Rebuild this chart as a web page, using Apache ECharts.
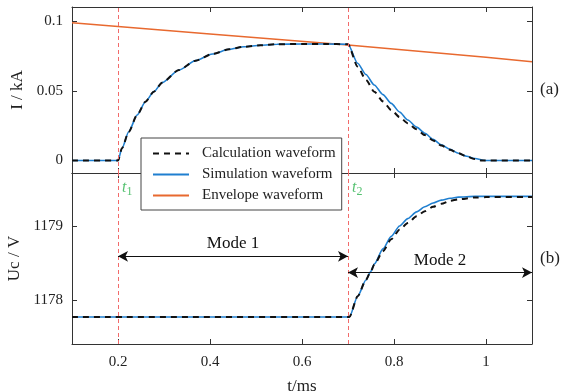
<!DOCTYPE html>
<html>
<head>
<meta charset="utf-8">
<script src="https://cdn.jsdelivr.net/npm/echarts@6/dist/echarts.min.js"></script>
<style>
html,body{margin:0;padding:0;background:#fff;}
#chart{width:572px;height:392px;}
</style>
</head>
<body>
<div id="chart"></div>
<script>
// ---- data ----
const xTicks = [0.2, 0.4, 0.6, 0.8, 1];
const iTicks = [0, 0.05, 0.1];
const uTicks = [1178, 1179];

const tSimI = [0.1, 0.2, 0.2087, 0.2233, 0.2415, 0.2597, 0.278, 0.296, 0.3325, 0.3688, 0.405, 0.4417, 0.474, 0.51, 0.546, 0.6, 0.65, 0.7,
  0.721, 0.739, 0.757, 0.776, 0.794, 0.812, 0.830, 0.849, 0.867, 0.885, 0.903, 0.922, 0.940, 0.958, 0.976, 0.998, 1.1];
const simI = [0, 0, 0.0088, 0.0207, 0.0327, 0.0423, 0.0495, 0.056, 0.0651, 0.0718, 0.0766, 0.080, 0.0818, 0.0829, 0.0836, 0.0838, 0.0838, 0.0836,
  0.0699, 0.0618, 0.0543, 0.0474, 0.0411, 0.0349, 0.0291, 0.0240, 0.0196, 0.0152, 0.0112, 0.0080, 0.0052, 0.0030, 0.0014, 0, 0];

const tCalcI = [0.1, 0.2, 0.2087, 0.2233, 0.2415, 0.2597, 0.278, 0.296, 0.3325, 0.3688, 0.405, 0.4417, 0.474, 0.51, 0.546, 0.6, 0.65, 0.7,
  0.721, 0.739, 0.757, 0.776, 0.794, 0.812, 0.830, 0.849, 0.867, 0.885, 0.903, 0.922, 0.940, 0.958, 0.976, 0.990, 1.1];
const calcI = [0, 0, 0.0088, 0.0207, 0.0327, 0.0423, 0.0495, 0.056, 0.0651, 0.0718, 0.0766, 0.080, 0.0818, 0.0829, 0.0836, 0.0838, 0.0838, 0.0836,
  0.0675, 0.0580, 0.0495, 0.0425, 0.0363, 0.0313, 0.0268, 0.0224, 0.0183, 0.0144, 0.0107, 0.0077, 0.0052, 0.0028, 0.0010, 0, 0];

const tEnv = [0.1, 0.4, 0.7, 1.0, 1.1];
const envI = [0.0991, 0.0910, 0.0831, 0.0742, 0.0711];

const tSimU = [0.1, 0.703, 0.721, 0.739, 0.749, 0.7575, 0.776, 0.794, 0.812, 0.830, 0.849, 0.867, 0.885, 0.903, 0.922, 0.940, 0.976, 1.1];
const simU = [1177.77, 1177.77, 1178.05, 1178.27, 1178.38, 1178.49, 1178.69, 1178.86, 1179.00, 1179.10, 1179.19, 1179.26, 1179.31, 1179.35, 1179.375, 1179.39, 1179.40, 1179.40];
const tCalcU = [0.1, 0.703, 0.721, 0.739, 0.749, 0.7575, 0.776, 0.794, 0.812, 0.830, 0.849, 0.867, 0.885, 0.903, 0.922, 0.940, 0.976, 1.0, 1.1];
const calcU = [1177.77, 1177.77, 1178.05, 1178.27, 1178.38, 1178.48, 1178.66, 1178.82, 1178.95, 1179.04, 1179.13, 1179.20, 1179.26, 1179.30, 1179.34, 1179.36, 1179.385, 1179.39, 1179.39];

const switchTimes = [0.2, 0.7];
const modeNames = ['Mode 1', 'Mode 2'];
const modeStart = [0.2, 0.7];
const modeEnd = [0.7, 1.1];
const modeLevel = [1178.59, 1178.37];
const tLabelLevel = 1179.51;

// ---- chart ----
const zip = (a, b) => a.map((v, i) => [v, b[i]]);
const FONT = '"Liberation Serif", "Times New Roman", serif';
const AX = '#333';
const chart = echarts.init(document.getElementById('chart'));

const xBase = {
  type: 'value', min: 0.1, max: 1.1,
  axisLine: { show: true, onZero: false, lineStyle: { color: AX, width: 1 } },
  axisTick: { show: true, inside: true, length: 5, customValues: xTicks, lineStyle: { color: AX } },
  axisLabel: { show: false, customValues: xTicks },
  splitLine: { show: false }
};
function yAx(min, max, ticks, extra) {
  return Object.assign({
    type: 'value', min: min, max: max,
    axisLine: { show: true, onZero: false, lineStyle: { color: AX, width: 1 } },
    axisTick: { show: true, inside: true, length: 5, customValues: ticks, lineStyle: { color: AX } },
    axisLabel: { show: false, customValues: ticks },
    splitLine: { show: false }
  }, extra);
}
const nameStyle = { fontFamily: FONT, fontSize: 17, color: '#222' };
const labelStyle = { show: true, fontFamily: FONT, fontSize: 15, color: '#222', margin: 9, formatter: v => String(v) };

const vLines = {
  silent: true, symbol: 'none', animation: false,
  lineStyle: { color: '#f26b6b', type: [4, 3], width: 1 },
  label: { show: false },
  data: switchTimes.map(t => ({ xAxis: t }))
};

const option = {
  animation: false,
  backgroundColor: '#fff',
  grid: [
    { left: 72, right: 40, top: 7, height: 166, outerBoundsMode: 'none', containLabel: false },
    { left: 72, right: 40, top: 173, height: 171, outerBoundsMode: 'none', containLabel: false }
  ],
  xAxis: [
    Object.assign({}, xBase, { gridIndex: 0, position: 'bottom' }),
    Object.assign({}, xBase, { gridIndex: 0, position: 'top' }),
    Object.assign({}, xBase, { gridIndex: 1, position: 'bottom',
      axisLabel: Object.assign({}, labelStyle, { customValues: xTicks, margin: 11 }),
      name: 't/ms', nameLocation: 'middle', nameGap: 34, nameTextStyle: nameStyle }),
    Object.assign({}, xBase, { gridIndex: 1, position: 'top' })
  ],
  yAxis: [
    yAx(-0.009, 0.1104, iTicks, { gridIndex: 0, position: 'left',
      axisLabel: Object.assign({}, labelStyle, { customValues: iTicks }),
      name: 'I / kA', nameLocation: 'middle', nameGap: 40, nameTextStyle: nameStyle }),
    yAx(-0.009, 0.1104, iTicks, { gridIndex: 0, position: 'right',
      name: '(a)', nameLocation: 'middle', nameRotate: 0, nameGap: 8, nameTextStyle: nameStyle }),
    yAx(1177.405, 1179.716, uTicks, { gridIndex: 1, position: 'left',
      axisLabel: Object.assign({}, labelStyle, { customValues: uTicks }),
      name: 'Uc / V', nameLocation: 'middle', nameGap: 42, nameTextStyle: nameStyle }),
    yAx(1177.405, 1179.716, uTicks, { gridIndex: 1, position: 'right',
      name: '(b)', nameLocation: 'middle', nameRotate: 0, nameGap: 8, nameTextStyle: nameStyle })
  ],
  legend: {
    data: ['Calculation waveform', 'Simulation waveform', 'Envelope waveform'],
    orient: 'vertical', left: 141, top: 138,
    padding: [8, 6, 7, 11],
    itemWidth: 36, itemHeight: 14, itemGap: 6,
    itemStyle: { opacity: 0 },
    backgroundColor: '#fff', borderColor: '#444', borderWidth: 1, borderRadius: 0,
    textStyle: { fontFamily: FONT, fontSize: 15, color: '#222', padding: [0, 0, 0, 8] },
    z: 10
  },
  series: [
    { name: 'Envelope waveform', type: 'line', xAxisIndex: 0, yAxisIndex: 0, data: zip(tEnv, envI),
      showSymbol: false, symbol: 'none', lineStyle: { color: '#E8692F', width: 1.5 }, itemStyle: { color: '#E8692F' } },
    { name: 'Simulation waveform', type: 'line', xAxisIndex: 0, yAxisIndex: 0, data: zip(tSimI, simI), smooth: 0.25, smoothMonotone: 'x',
      showSymbol: false, symbol: 'none', lineStyle: { color: '#1f7fd0', width: 1.6 }, itemStyle: { color: '#1f7fd0' },
      markLine: vLines },
    { name: 'Calculation waveform', type: 'line', xAxisIndex: 0, yAxisIndex: 0, data: zip(tCalcI, calcI), smooth: 0.25, smoothMonotone: 'x',
      showSymbol: false, symbol: 'none', lineStyle: { color: '#111', width: 2, type: [6, 5] }, itemStyle: { color: '#111' } },
    { name: 'Simulation waveform', type: 'line', xAxisIndex: 2, yAxisIndex: 2, data: zip(tSimU, simU), smooth: 0.25, smoothMonotone: 'x',
      showSymbol: false, symbol: 'none', lineStyle: { color: '#1f7fd0', width: 1.6 }, itemStyle: { color: '#1f7fd0' },
      markLine: vLines },
    { name: 'Calculation waveform', type: 'line', xAxisIndex: 2, yAxisIndex: 2, data: zip(tCalcU, calcU), smooth: 0.25, smoothMonotone: 'x',
      showSymbol: false, symbol: 'none', lineStyle: { color: '#111', width: 2, type: [6, 5] }, itemStyle: { color: '#111' },
      markLine: {
        silent: true, animation: false,
        symbol: ['arrow', 'arrow'], symbolSize: [8, 10],
        lineStyle: { color: '#111', type: 'solid', width: 1 },
        label: { show: true, position: 'insideMiddleTop', fontFamily: FONT, fontSize: 17, color: '#111', distance: 4,
          formatter: p => p.name },
        data: modeNames.map((n, i) => [
          { name: n, coord: [modeStart[i], modeLevel[i]] },
          { coord: [modeEnd[i], modeLevel[i]] }
        ])
      } },
    { name: 'tlabels', type: 'scatter', xAxisIndex: 2, yAxisIndex: 2, symbolSize: 0, silent: true,
      data: switchTimes.map((t, i) => ({ value: [t, tLabelLevel], name: String(i + 1) })),
      label: { show: true, position: 'right', distance: 4,
        formatter: p => '{it|t}{sub|' + p.name + '}',
        rich: {
          it: { fontFamily: FONT, fontStyle: 'italic', fontSize: 16, color: '#2bb24c' },
          sub: { fontFamily: FONT, fontSize: 12, color: '#2bb24c', padding: [8, 0, 0, 0] }
        } } }
  ]
};
chart.setOption(option);
</script>
</body>
</html>
